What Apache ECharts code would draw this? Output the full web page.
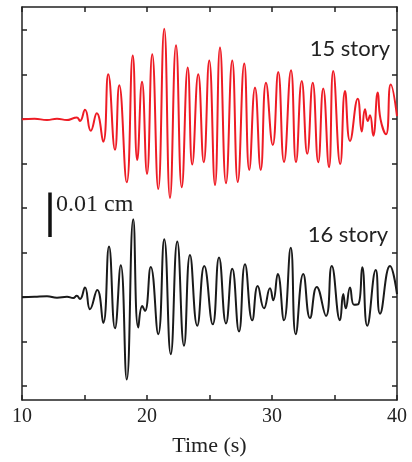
<!DOCTYPE html>
<html>
<head>
<meta charset="utf-8">
<script src="https://cdn.jsdelivr.net/npm/echarts@6/dist/echarts.min.js"></script>
<style>
  html, body { margin: 0; padding: 0; background: #fff; }
  #echarts_id { width: 412px; height: 462px; }
</style>
</head>
<body>
<div id="echarts_id"></div>
<script>
// 时间 (s) 与位移 (单位 0.01 cm)，15 层
var time15 = [10, 11, 12, 12.8, 13.6, 14.1, 14.4, 14.64, 15.04, 15.5, 15.98, 16.5, 16.9, 17.44, 17.78, 18.38,
  18.86, 19.22, 19.6, 20.0, 20.42, 20.9, 21.38, 21.84, 22.32, 22.78, 23.26, 23.62, 24.1, 24.54, 24.98,
  25.44, 25.84, 26.32, 26.82, 27.26, 27.78, 28.18, 28.64, 29.1, 29.52, 30.06, 30.5, 30.96, 31.52, 31.92,
  32.38, 32.82, 33.26, 33.7, 34.1, 34.56, 34.9, 35.46, 35.84, 36.24, 36.86, 37.18, 37.44, 37.66, 37.84,
  38.1, 38.46, 38.68, 39.12, 39.5, 40];
var disp15 = [0, 0.01, -0.02, 0.01, -0.02, 0.02, 0.04, -0.04, 0.21, -0.26, 0.13, -0.51, 1.01, -0.69, 0.76, -1.42,
  1.43, -0.92, 0.84, -1.23, 1.46, -1.57, 2.03, -1.77, 1.66, -1.53, 1.16, -1.02, 1.01, -0.97, 1.32,
  -1.48, 1.61, -1.44, 1.32, -1.41, 1.25, -1.14, 0.71, -1.14, 0.82, -0.58, 1.06, -0.96, 1.1, -0.97,
  0.86, -0.78, 0.82, -0.97, 0.69, -1.08, 1.08, -1.01, 0.63, -0.49, 0.46, -0.28, 0.22, -0.04, 0.09,
  -0.37, 0.6, 0, -0.34, 0.78, 0.07];

// 16 层
var time16 = [10, 11, 12, 12.8, 13.6, 14.1, 14.38, 14.64, 15.04, 15.44, 16.02, 16.5, 16.96, 17.44, 17.9, 18.38,
  18.9, 19.3, 19.62, 19.84, 20.3, 20.9, 21.38, 21.9, 22.42, 22.96, 23.44, 24.02, 24.58, 25.26, 25.76,
  26.32, 26.82, 27.36, 27.84, 28.42, 28.86, 29.36, 29.84, 30.1, 30.46, 30.96, 31.5, 31.9, 32.5, 33.04,
  33.58, 34.32, 34.78, 35.44, 35.7, 35.9, 36.24, 36.56, 36.9, 37.22, 37.62, 38.3, 38.64, 39.44, 40];
var disp16 = [0, 0.01, 0.02, -0.01, 0.01, -0.02, 0.03, -0.04, 0.22, -0.27, 0.16, -0.58, 1.14, -0.7, 0.72, -1.85,
  1.75, -0.68, -0.2, -0.31, 0.68, -0.83, 1.3, -1.28, 1.25, -1.09, 0.95, -0.64, 0.7, -0.61, 0.89,
  -0.59, 0.64, -0.77, 0.74, -0.52, 0.25, -0.25, 0.2, -0.07, 0.52, -0.52, 1.11, -0.83, 0.52, -0.47,
  0.23, -0.42, 0.7, -0.52, 0.07, -0.25, 0.22, -0.17, -0.16, 0.67, -0.64, 0.61, -0.37, 0.7, 0.07];

// 两条曲线的基线偏移
var offset15 = 4;
var offset16 = 0;
var yTicks = [-2, -1, 0, 1, 2, 3, 4, 5, 6];
var xLabels = [10, 20, 30, 40];
// 比例尺：1 个单位 = 0.01 cm
var scaleBarTime = [12.24, 12.24];
var scaleBarDisp = [1.35, 2.35];

function zip(t, d, off) {
  return t.map(function (v, i) { return [v, d[i] + off]; });
}

var myChart = echarts.init(document.getElementById('echarts_id'));

var axisColor = '#222';
var yAxisBase = {
  type: 'value', min: -2.31, max: 6.52,
  axisLine: { show: true, onZero: false, lineStyle: { color: axisColor, width: 1.5 } },
  axisTick: { show: true, inside: true, length: 5, customValues: yTicks, lineStyle: { color: axisColor, width: 1.5 } },
  axisLabel: { show: false },
  splitLine: { show: false }
};

option = {
  animation: false,
  grid: { left: 22, right: 15, top: 7, bottom: 61 },
  xAxis: [{
    type: 'value', min: 10, max: 40, interval: 5,
    name: 'Time (s)', nameLocation: 'middle', nameGap: 35,
    nameTextStyle: { fontFamily: 'Liberation Serif', fontSize: 22, color: '#222' },
    axisLine: { onZero: false, lineStyle: { color: axisColor, width: 1.5 } },
    axisTick: { inside: true, length: 5, lineStyle: { color: axisColor, width: 1.5 } },
    axisLabel: {
      margin: 7, fontFamily: 'Liberation Serif', fontSize: 20, color: '#222',
      formatter: function (v) { return xLabels.indexOf(v) >= 0 ? String(v) : ''; }
    },
    splitLine: { show: false }
  }, {
    type: 'value', min: 10, max: 40, interval: 5, position: 'top',
    axisLine: { onZero: false, lineStyle: { color: axisColor, width: 1.5 } },
    axisTick: { inside: true, length: 5, lineStyle: { color: axisColor, width: 1.5 } },
    axisLabel: { show: false },
    splitLine: { show: false }
  }],
  yAxis: [
    Object.assign({ position: 'left' }, yAxisBase),
    Object.assign({ position: 'right' }, yAxisBase)
  ],
  graphic: [
    { type: 'text', right: 22, top: 38, style: { text: '15 story', font: '22px Lato', fill: '#222' } },
    { type: 'text', right: 24, top: 224, style: { text: '16 story', font: '22px Lato', fill: '#222' } },
    { type: 'text', left: 56, top: 193, style: { text: '0.01 cm', font: '24px "Liberation Serif"', fill: '#222' } }
  ],
  series: [{
    name: '15 story', type: 'line', smooth: 0.5, symbol: 'none',
    lineStyle: { color: '#ee1c25', width: 2 },
    data: zip(time15, disp15, offset15)
  }, {
    name: '16 story', type: 'line', smooth: 0.5, symbol: 'none',
    lineStyle: { color: '#1a1a1a', width: 2 },
    data: zip(time16, disp16, offset16)
  }, {
    name: 'scale', type: 'line', symbol: 'none',
    lineStyle: { color: '#111', width: 3.5 },
    data: zip(scaleBarTime, scaleBarDisp, 0)
  }]
};

myChart.setOption(option);
</script>
</body>
</html>
